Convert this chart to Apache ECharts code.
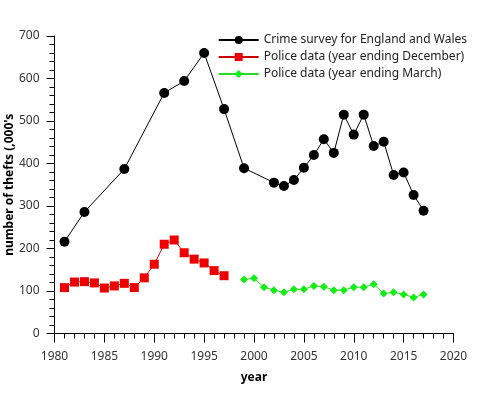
<!DOCTYPE html>
<html>
<head>
<meta charset="utf-8">
<script src="https://cdn.jsdelivr.net/npm/echarts@6/dist/echarts.min.js"></script>
<style>html,body{margin:0;padding:0;background:#fff}#c{width:477px;height:399px}</style>
</head>
<body>
<div id="c"></div>
<script>
const surveyYears = [1981,1983,1987,1991,1993,1995,1997,1999,2002,2003,2004,2005,2006,2007,2008,2009,2010,2011,2012,2013,2014,2015,2016,2017];
const surveyValues = [216,286,387,566,594,660,528,389,355,347,361,390,420,457,425,515,468,515,441,451,373,379,326,289];
const decYears = [1981,1982,1983,1984,1985,1986,1987,1988,1989,1990,1991,1992,1993,1994,1995,1996,1997];
const decValues = [108,121,122,119,107,112,118,108,131,163,210,220,190,175,166,148,136];
const marYears = [1999,2000,2001,2002,2003,2004,2005,2006,2007,2008,2009,2010,2011,2012,2013,2014,2015,2016,2017];
const marValues = [127,130,109,102,97,104,104,112,110,102,102,109,109,116,94,97,92,85,92];
const seriesNames = ['Crime survey for England and Wales','Police data (year ending December)','Police data (year ending March)'];
const xTitle = 'year';
const yTitle = "number of thefts (,000's";

const zip = (xs, ys) => xs.map((x, i) => [x, ys[i]]);
const font = 'Noto Sans';
const chart = echarts.init(document.getElementById('c'));
chart.setOption({
  animation: false,
  textStyle: { fontFamily: font },
  grid: { left: 54.5, right: 23.5, top: 36, bottom: 65.5, containLabel: false, outerBoundsMode: 'none' },
  legend: {
    orient: 'vertical', right: 5, top: 29,
    itemWidth: 40, itemHeight: 10, itemGap: 5,
    textStyle: { fontFamily: font, fontSize: 12, color: '#222' },
    data: seriesNames
  },
  xAxis: {
    type: 'value', min: 1980, max: 2020, interval: 5,
    name: xTitle, nameLocation: 'middle', nameGap: 38, nameMoveOverlap: false,
    nameTextStyle: { fontFamily: font, fontWeight: 'bold', fontSize: 12, color: '#000' },
    axisLine: { lineStyle: { color: '#000', width: 1 } },
    axisTick: { show: true, length: 9, lineStyle: { color: '#000' } },
    minorTick: { show: true, splitNumber: 5, length: 5, lineStyle: { color: '#000' } },
    axisLabel: { margin: 17, fontSize: 12, color: '#333', fontFamily: font, formatter: v => String(v) },
    splitLine: { show: false }
  },
  yAxis: {
    type: 'value', min: 0, max: 700, interval: 100,
    name: yTitle, nameLocation: 'middle', nameGap: 39, nameRotate: 90, nameMoveOverlap: false,
    nameTextStyle: { fontFamily: font, fontWeight: 'bold', fontSize: 12, color: '#000' },
    axisLine: { show: true, lineStyle: { color: '#000', width: 1 } },
    axisTick: { show: true, length: 8, lineStyle: { color: '#000' } },
    minorTick: { show: true, splitNumber: 5, length: 5, lineStyle: { color: '#000' } },
    axisLabel: { margin: 15, fontSize: 12, color: '#333', fontFamily: font },
    splitLine: { show: false }
  },
  series: [
    {
      name: seriesNames[0], type: 'line', data: zip(surveyYears, surveyValues),
      symbol: 'circle', symbolSize: 10,
      itemStyle: { color: '#000' }, lineStyle: { color: '#000', width: 1 }
    },
    {
      name: seriesNames[1], type: 'line', data: zip(decYears, decValues),
      symbol: 'rect', symbolSize: 9,
      itemStyle: { color: '#ee0000' }, lineStyle: { color: '#cc0000', width: 1 }
    },
    {
      name: seriesNames[2], type: 'line', data: zip(marYears, marValues),
      symbol: 'diamond', symbolSize: 8,
      itemStyle: { color: '#11ee11' }, lineStyle: { color: '#22dd22', width: 1 }
    }
  ]
});
</script>
</body>
</html>
